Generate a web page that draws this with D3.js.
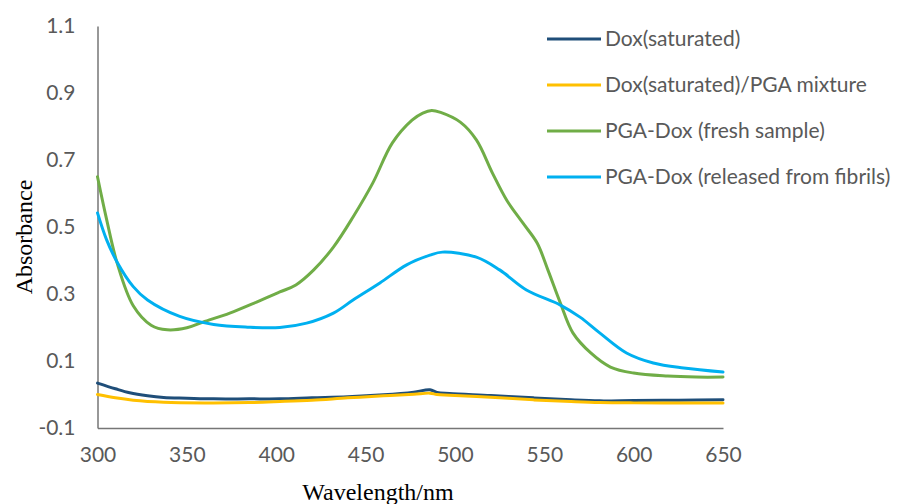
<!DOCTYPE html>
<head>
<meta charset="utf-8">
<style>
body { margin: 0; background: #fff; }
</style>
</head>
<body>
<script src="https://cdn.jsdelivr.net/npm/d3@7"></script>
<script>
// values
var satWl = [300, 310, 318, 328, 337, 350, 365, 385, 402, 420, 440, 460, 477, 486, 490, 497, 520, 544, 565, 581, 600, 625, 650];
var satAbs = [0.034, 0.017, 0.005, -0.004, -0.009, -0.011, -0.013, -0.013, -0.013, -0.010, -0.007, -0.001, 0.007, 0.014, 0.006, 0.003, -0.003, -0.010, -0.016, -0.019, -0.018, -0.017, -0.016];

var mixWl = [300, 310, 320, 337, 360, 385, 402, 420, 440, 460, 477, 486, 490, 497, 520, 544, 565, 581, 600, 625, 650];
var mixAbs = [0.000, -0.010, -0.017, -0.023, -0.025, -0.024, -0.021, -0.017, -0.010, -0.004, 0.001, 0.004, 0.000, -0.002, -0.008, -0.016, -0.021, -0.024, -0.025, -0.025, -0.025];

var freshWl = [300, 305, 311, 320, 330, 339, 350, 359, 374, 389, 402, 411, 421, 432, 443, 454, 465, 476, 482, 487, 492, 503, 512, 521, 529, 538, 546, 552, 559, 566, 576, 587, 600, 619, 635, 650];
var freshAbs = [0.650, 0.525, 0.392, 0.265, 0.207, 0.193, 0.199, 0.216, 0.243, 0.276, 0.306, 0.327, 0.372, 0.440, 0.530, 0.631, 0.751, 0.819, 0.840, 0.848, 0.842, 0.813, 0.760, 0.661, 0.580, 0.512, 0.452, 0.372, 0.273, 0.184, 0.124, 0.082, 0.064, 0.055, 0.052, 0.052];

var relWl = [300, 305, 311, 320, 328, 346, 365, 384, 402, 417, 432, 443, 458, 473, 486, 493, 512, 525, 540, 559, 570, 581, 596, 611, 628, 650];
var relAbs = [0.542, 0.463, 0.395, 0.322, 0.282, 0.233, 0.209, 0.201, 0.200, 0.213, 0.243, 0.282, 0.333, 0.387, 0.416, 0.425, 0.410, 0.372, 0.312, 0.267, 0.231, 0.184, 0.124, 0.094, 0.079, 0.067];

var seriesNames = ["Dox(saturated)", "Dox(saturated)/PGA mixture", "PGA-Dox (fresh sample)", "PGA-Dox (released from fibrils)"];
var seriesColors = ["#1f4e79", "#ffc000", "#70ad47", "#00b0f0"];
var xTicks = [300, 350, 400, 450, 500, 550, 600, 650];
var yTicks = [-0.1, 0.1, 0.3, 0.5, 0.7, 0.9, 1.1];

var series = [
    { wl: satWl, abs: satAbs },
    { wl: mixWl, abs: mixAbs },
    { wl: freshWl, abs: freshAbs },
    { wl: relWl, abs: relAbs }
];

var width = 902, height = 504;
var x = d3.scaleLinear().domain([300, 650]).range([97.5, 723]);
var y = d3.scaleLinear().domain([-0.1, 1.1]).range([428, 26]);

var svg = d3.select("body").append("svg")
    .attr("width", width)
    .attr("height", height);

var tickFont = "Lato, 'Open Sans', sans-serif";

// y axis (no tick marks, labels only)
var yAxis = svg.append("g")
    .attr("transform", "translate(97.5,0)")
    .call(d3.axisLeft(y).tickValues(yTicks).tickSize(0).tickPadding(22)
        .tickFormat(function (d) { return d.toFixed(1); }));
yAxis.select(".domain").attr("stroke", "#767676").attr("stroke-width", 1.5);
yAxis.selectAll("text")
    .attr("fill", "#595959")
    .style("font-family", tickFont)
    .style("font-size", "21px");

var xAxis = svg.append("g")
    .attr("transform", "translate(0,428)")
    .call(d3.axisBottom(x).tickValues(xTicks).tickSize(0).tickPadding(19));
xAxis.select(".domain").attr("stroke", "#767676").attr("stroke-width", 1.5);
xAxis.selectAll("text")
    .attr("fill", "#595959")
    .style("font-family", tickFont)
    .style("font-size", "21px");

var line = d3.line()
    .x(function (d) { return x(d[0]); })
    .y(function (d) { return y(d[1]); })
    .curve(d3.curveCatmullRom.alpha(0.5));

series.forEach(function (s, i) {
    var pts = s.wl.map(function (w, j) { return [w, s.abs[j]]; });
    svg.append("path")
        .attr("d", line(pts))
        .attr("fill", "none")
        .attr("stroke", seriesColors[i])
        .attr("stroke-width", 3)
        .attr("stroke-linejoin", "round")
        .attr("stroke-linecap", "round");
});

// axis titles
svg.append("text")
    .attr("x", 378)
    .attr("y", 500)
    .attr("text-anchor", "middle")
    .style("font-family", "'Liberation Serif', 'Times New Roman', serif")
    .style("font-size", "24px")
    .text("Wavelength/nm");

svg.append("text")
    .attr("transform", "translate(32,237) rotate(-90)")
    .attr("text-anchor", "middle")
    .style("font-family", "'Liberation Serif', 'Times New Roman', serif")
    .style("font-size", "24px")
    .text("Absorbance");

// legend
var legend = svg.append("g");
seriesNames.forEach(function (name, i) {
    var ly = 39 + i * 46;
    legend.append("line")
        .attr("x1", 547).attr("x2", 601)
        .attr("y1", ly).attr("y2", ly)
        .attr("stroke", seriesColors[i])
        .attr("stroke-width", 3);
    legend.append("text")
        .attr("x", 605)
        .attr("y", ly + 7)
        .attr("fill", "#595959")
        .style("font-family", tickFont)
        .style("font-size", "21px")
        .text(name);
});
</script>
</body>
